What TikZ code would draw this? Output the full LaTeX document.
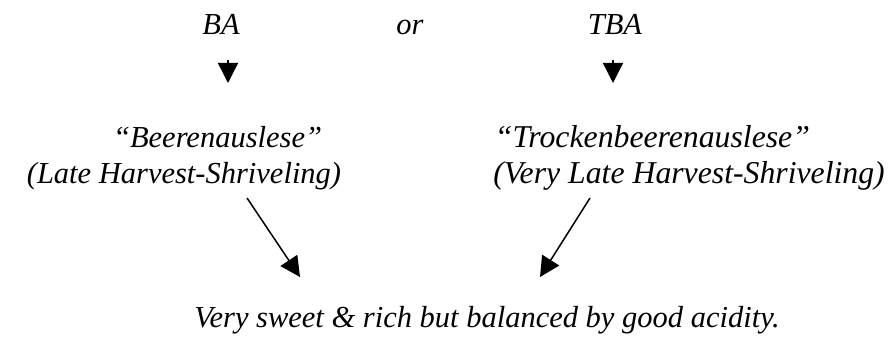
\documentclass[tikz,border=0pt]{standalone}
\usepackage{fontspec}
\setmainfont{Liberation Serif}
\usetikzlibrary{arrows.meta}
\usetikzlibrary{positioning}

\begin{document}
\begin{tikzpicture}[x=0.4pt, y=-0.4pt,
    lbl/.style={inner sep=0pt, font=\fontsize{12.2}{14.4}\selectfont\itshape},
    tip/.style={-{Triangle[length=8pt, width=8pt]}, line width=0.6pt}]
            \useasboundingbox (0,0) rectangle (890,337);
            % Wine grades and what they taste like
            \node[lbl, anchor=base] (ba) at (221,35) {BA};
            \node[lbl, anchor=base] (or) at (410,35) {or};
            \node[lbl, anchor=base] (tba) at (615,35) {TBA};
            \node[lbl, align=center] (beeren) at (184,158) {\hspace*{2.2em}``Beerenauslese''\\(Late Harvest-Shriveling)};
            \node[lbl, align=left, font=\fontsize{12.7}{14.4}\selectfont\itshape] (trocken) at (689,158) {\hspace*{0.05em}``Trockenbeerenauslese''\\(Very Late Harvest-Shriveling)};
            \node[lbl, anchor=base] (result) at (487,328) {Very sweet \& rich but balanced by good acidity.};
            \draw[tip] ([shift={(7,25)}]ba.base) -- ([shift={(7,48)}]ba.base);
            \draw[tip] ([shift={(-2,25)}]tba.base) -- ([shift={(-2,48)}]tba.base);
            \draw[tip] ([shift={(63,40)}]beeren.center) -- ([shift={(-187,-51)}]result.base);
            \draw[tip] ([shift={(-99,40)}]trocken.center) -- ([shift={(53,-51)}]result.base);
        \end{tikzpicture}
\end{document}
